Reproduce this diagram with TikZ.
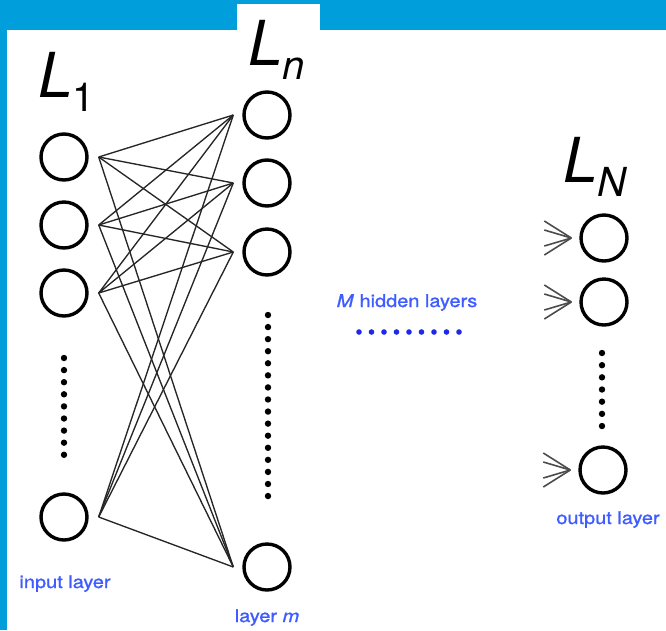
\documentclass[tikz,border=0pt]{standalone}
\usepackage{fontspec}
\setmainfont{TeX Gyre Heros}
\newfontfamily\tagfont[FakeStretch=1.14, FakeBold=1.2]{TeX Gyre Heros}
\usepackage{xcolor}

\definecolor{frameblue}{RGB}{0,158,218}
\definecolor{tagblue}{RGB}{62,92,255}
\definecolor{dotblue}{RGB}{30,40,235}

% big layer names, L with a lowered index
\newcommand{\layername}[1]{{\fontsize{62}{62}\selectfont\itshape L}\raisebox{-14pt}{\fontsize{40}{40}\selectfont #1}}

\begin{document}
\begin{tikzpicture}[x=1pt, y=-1pt,
    neuron/.style={circle, draw, line width=3.4pt, minimum size=46pt, inner sep=0pt},
    link/.style={line width=1.35pt, black!85},
    fan/.style={line width=1.6pt, black!70},
    tag/.style={text=tagblue, font=\tagfont\fontsize{17.5}{18}\selectfont, anchor=base, inner sep=0pt},
    layertitle/.style={anchor=base west, inner sep=0pt}]
    \useasboundingbox (0,0) rectangle (666,630);

    % frame
    \fill[frameblue] (0,0) rectangle (666,30);
    \fill[frameblue] (0,0) rectangle (7.3,630);
    \fill[white] (237,4) rectangle (320,30);

    % input layer
    \node[neuron] (in1) at (64,157) {};
    \node[neuron] (in2) at (64,225) {};
    \node[neuron] (in3) at (64,293) {};
    \node[neuron] (in4) at (64,517) {};
    % layer m
    \node[neuron] (hid1) at (267,115) {};
    \node[neuron] (hid2) at (267,183) {};
    \node[neuron] (hid3) at (267,252) {};
    \node[neuron] (hid4) at (267,567) {};
    % output layer
    \node[neuron] (out1) at (604,238) {};
    \node[neuron] (out2) at (604,302) {};
    \node[neuron] (out3) at (603,470) {};

    \foreach \i in {1,...,4}
        \foreach \j in {1,...,4}
            \draw[link] ([xshift=10pt]in\i.east) -- ([xshift=-9pt]hid\j.west);

    \foreach \k in {1,2,3}
        \foreach \dy in {-17,-8,8,17}
            \draw[fan] ([shift={(-35,\dy)}]out\k.west) -- ([xshift=-8pt]out\k.west);

    % vertical dots
    \foreach \k in {0,...,8} \fill (64,{358+12.1*\k}) circle (3.2pt);
    \foreach \k in {0,...,15} \fill (268,{315+12.07*\k}) circle (3.2pt);
    \foreach \k in {0,...,6} \fill (602,{353+12.17*\k}) circle (3.2pt);
    \foreach \k in {0,...,8} \fill[dotblue] ({359+12.5*\k},332) circle (2.8pt);

    \node[layertitle] (n1) at (38,97) {\layername{1}};
    \node[layertitle] (nn) at (248,65) {\layername{\itshape n}};
    \node[layertitle] (nN) at (563,182) {\layername{\itshape N}};

    \node[tag] (tin) at (65,588) {input layer};
    \node[tag] (thid) at (267,622) {layer \textit{m}};
    \node[tag] (tout) at (608,524) {output layer};
    \node[tag] (tmid) at (407,307) {\textit{M} hidden layers};
\end{tikzpicture}
\end{document}
